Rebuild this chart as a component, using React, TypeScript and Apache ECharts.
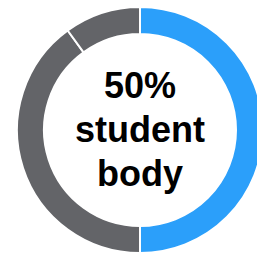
import React, { useEffect, useRef } from "react";
import * as echarts from "echarts";

const categories = ["Student body", "Other", "Remainder"];
const values = [50, 40, 10];
const colors = ["#2B9FFA", "#636468", "#636468"];
const centerLines = ["50%", "student", "body"];

export default function App() {
  const ref = useRef<HTMLDivElement>(null);
  useEffect(() => {
    if (!ref.current) return;
    const chart = echarts.init(ref.current, null, { renderer: "svg" });
    chart.setOption({
      animation: false,
      backgroundColor: "#ffffff",
      series: [
        {
          type: "pie",
          center: [140, 130],
          radius: [96, 123],
          startAngle: 90,
          clockwise: true,
          silent: true,
          label: { show: false },
          labelLine: { show: false },
          itemStyle: { borderColor: "#ffffff", borderWidth: 2 },
          data: categories.map((name, i) => ({
            name,
            value: values[i],
            itemStyle: { color: colors[i] },
          })),
        },
      ],
      graphic: [
        {
          type: "text",
          x: 140,
          y: 129,
          style: {
            text: centerLines.join("\n"),
            fill: "#000000",
            font: "bold 36px 'Liberation Sans', Arial, sans-serif",
            lineHeight: 44,
            align: "center",
            verticalAlign: "middle",
          },
        },
      ],
    });
    return () => chart.dispose();
  }, []);
  return (
    <div
      ref={ref}
      style={{ position: "absolute", left: 0, top: 0, width: 257, height: 256 }}
    />
  );
}
